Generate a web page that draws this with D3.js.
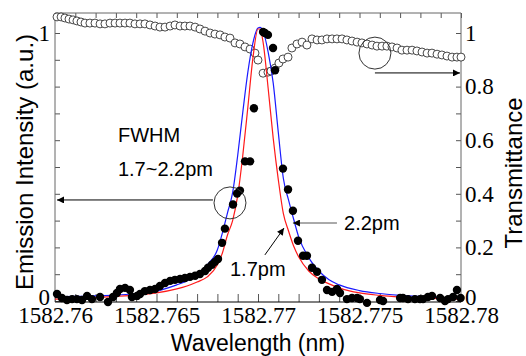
<!DOCTYPE html>
<html>
<head>
<meta charset="utf-8">
<style>
  body { margin: 0; background: #fff; }
  svg text { font-family: "Liberation Sans", Arial, sans-serif; }
</style>
<title>Emission and transmittance</title>
</head>
<body>
<script src="https://cdn.jsdelivr.net/npm/d3@7"></script>
<script>

// Emission intensity (filled dots)
var emWl = [1582.76010, 1582.76034, 1582.76059, 1582.76084, 1582.76108, 1582.76133, 1582.76158, 1582.76182,
            1582.76222, 1582.76261, 1582.76286, 1582.76305, 1582.76320, 1582.76345, 1582.76369, 1582.76379,
            1582.76404, 1582.76419, 1582.76443, 1582.76468, 1582.76493, 1582.76517, 1582.76542, 1582.76567,
            1582.76591, 1582.76616, 1582.76640, 1582.76665, 1582.76690, 1582.76714, 1582.76739, 1582.76754,
            1582.76773, 1582.76788, 1582.76803, 1582.76823, 1582.76837, 1582.76877, 1582.76897, 1582.76911,
            1582.76936, 1582.76961, 1582.76980, 1582.77025, 1582.77034, 1582.77049, 1582.77074, 1582.77084,
            1582.77123, 1582.77148, 1582.77172, 1582.77197, 1582.77222, 1582.77241, 1582.77266, 1582.77291,
            1582.77315, 1582.77340, 1582.77365, 1582.77389, 1582.77404, 1582.77438, 1582.77463, 1582.77488,
            1582.77502, 1582.77537, 1582.77601, 1582.77616, 1582.77700, 1582.77714, 1582.77739, 1582.77773,
            1582.77798, 1582.77813, 1582.77837, 1582.77857, 1582.77897, 1582.77921, 1582.77936, 1582.77961,
            1582.77980, 1582.77998];
var emVal = [0.026, 0.011, 0.004, 0.007, 0.007, 0.004, 0.019, 0.007,
             0.015, -0.004, 0.015, 0.030, 0.045, 0.049, 0.041, 0.015,
             0.019, 0.026, 0.037, 0.041, 0.045, 0.056, 0.067, 0.075,
             0.079, 0.082, 0.086, 0.090, 0.094, 0.101, 0.112, 0.124,
             0.135, 0.146, 0.157, 0.217, 0.270, 0.360, 0.401, 0.412,
             0.521, 0.521, 0.719, 1.004, 1.000, 0.993, 0.944, 0.861,
             0.494, 0.416, 0.337, 0.225, 0.169, 0.169, 0.124, 0.109,
             0.079, 0.041, 0.034, 0.045, 0.030, 0.007, 0.011, 0.011,
             0.007, -0.007, 0.004, 0.000, 0.011, 0.011, 0.007, 0.007,
             0.007, 0.007, 0.015, 0.019, 0.011, 0.000, 0.007, 0.015,
             0.041, 0.011];

// Transmittance (open circles)
var trWl = [1582.76010, 1582.76030, 1582.76049, 1582.76069, 1582.76089, 1582.76108, 1582.76128, 1582.76148,
            1582.76172, 1582.76197, 1582.76222, 1582.76246, 1582.76271, 1582.76296, 1582.76320, 1582.76345,
            1582.76369, 1582.76394, 1582.76419, 1582.76443, 1582.76468, 1582.76493, 1582.76517, 1582.76542,
            1582.76567, 1582.76591, 1582.76616, 1582.76640, 1582.76665, 1582.76690, 1582.76714, 1582.76739,
            1582.76764, 1582.76788, 1582.76813, 1582.76837, 1582.76862, 1582.76887, 1582.76911, 1582.76936,
            1582.76961, 1582.76985, 1582.77000, 1582.77025, 1582.77049, 1582.77064, 1582.77084, 1582.77103,
            1582.77123, 1582.77148, 1582.77167, 1582.77192, 1582.77217, 1582.77241, 1582.77266, 1582.77291,
            1582.77315, 1582.77340, 1582.77365, 1582.77389, 1582.77414, 1582.77438, 1582.77463, 1582.77488,
            1582.77512, 1582.77537, 1582.77562, 1582.77586, 1582.77611, 1582.77635, 1582.77660, 1582.77685,
            1582.77709, 1582.77734, 1582.77759, 1582.77783, 1582.77808, 1582.77833, 1582.77857, 1582.77882,
            1582.77906, 1582.77931, 1582.77956, 1582.77980, 1582.78000];
var trVal = [1.060, 1.060, 1.056, 1.052, 1.049, 1.045, 1.041, 1.037,
             1.037, 1.037, 1.034, 1.034, 1.037, 1.037, 1.037, 1.037,
             1.037, 1.034, 1.034, 1.034, 1.030, 1.026, 1.022, 1.022,
             1.026, 1.030, 1.026, 1.026, 1.026, 1.022, 1.015, 1.007,
             1.000, 0.996, 0.993, 0.985, 0.981, 0.963, 0.959, 0.948,
             0.940, 0.925, 0.899, 0.850, 0.854, 0.858, 0.869, 0.888,
             0.903, 0.910, 0.944, 0.959, 0.966, 0.955, 0.978, 0.974,
             0.974, 0.978, 0.978, 0.978, 0.978, 0.974, 0.970, 0.966,
             0.963, 0.959, 0.955, 0.951, 0.951, 0.951, 0.948, 0.944,
             0.936, 0.936, 0.936, 0.933, 0.929, 0.925, 0.925, 0.921,
             0.918, 0.914, 0.910, 0.910, 0.910];

// Lorentzian fits (blue: 2.2pm, red: 1.7pm)
var fitWl = [1582.760, 1582.761, 1582.762, 1582.763, 1582.764, 1582.765, 1582.766,
             1582.7665, 1582.767, 1582.7675, 1582.768, 1582.76825, 1582.7685, 1582.76875,
             1582.769, 1582.76925, 1582.7695, 1582.76975, 1582.770, 1582.7701, 1582.77025,
             1582.7705, 1582.77075, 1582.771, 1582.77125, 1582.7715, 1582.77175, 1582.772,
             1582.7725, 1582.773, 1582.7735, 1582.774, 1582.775, 1582.776, 1582.777,
             1582.778, 1582.779, 1582.780];
var fitBlue = [0.015, 0.017, 0.019, 0.022, 0.028, 0.037, 0.060,
               0.075, 0.097, 0.135, 0.191, 0.255, 0.330, 0.404,
               0.543, 0.704, 0.854, 0.963, 1.019, 1.021, 1.007,
               0.929, 0.813, 0.629, 0.457, 0.378, 0.307, 0.240,
               0.161, 0.112, 0.079, 0.060, 0.039, 0.028, 0.021,
               0.017, 0.013, 0.011];
var fitRed = [0.007, 0.009, 0.013, 0.017, 0.022, 0.030, 0.045,
              0.056, 0.071, 0.090, 0.135, 0.180, 0.247, 0.300,
              0.393, 0.543, 0.723, 0.907, 1.015, 1.015, 0.966,
              0.794, 0.607, 0.453, 0.326, 0.262, 0.206, 0.165,
              0.112, 0.082, 0.064, 0.049, 0.030, 0.021, 0.015,
              0.011, 0.009, 0.007];

// Axis ticks
var xTicks = [1582.760, 1582.761, 1582.762, 1582.763, 1582.764, 1582.765, 1582.766, 1582.767,
              1582.768, 1582.769, 1582.770, 1582.771, 1582.772, 1582.773, 1582.774, 1582.775,
              1582.776, 1582.777, 1582.778, 1582.779, 1582.780];
var xLabelVals = [1582.76, 1582.765, 1582.77, 1582.775, 1582.78];
var xLabels = ["1582.76", "1582.765", "1582.77", "1582.775", "1582.78"];
var yTicks = [0, 0.1, 0.2, 0.3, 0.4, 0.5, 0.6, 0.7, 0.8, 0.9, 1];
var yLeftVals = [0, 1], yLeftLabels = ["0", "1"];
var yRightVals = [0, 0.2, 0.4, 0.6, 0.8, 1], yRightLabels = ["0", "0.2", "0.4", "0.6", "0.8", "1"];

var margin = {top: 13, left: 55},
    width = 406, height = 289;

var x = d3.scaleLinear().domain([1582.76, 1582.78]).range([0, width]);
var y = d3.scaleLinear().domain([0, 1]).range([288, 20]);

var root = d3.select("body").append("svg")
    .attr("width", 526).attr("height", 356);

root.append("defs").append("marker")
    .attr("id", "arrow")
    .attr("viewBox", "0 0 10 10")
    .attr("refX", 10).attr("refY", 5)
    .attr("markerWidth", 10).attr("markerHeight", 7)
    .attr("markerUnits", "userSpaceOnUse")
    .attr("orient", "auto")
  .append("path").attr("d", "M0,0 L10,5 L0,10 z").attr("fill", "#000");

var svg = root.append("g").attr("transform", `translate(${margin.left},${margin.top})`);

function pick(vals, labels) {
    return d => {
        var i = vals.findIndex(v => Math.abs(v - d) < 1e-7);
        return i < 0 ? "" : labels[i];
    };
}

// axes (ticks point inward)
svg.append("g").attr("transform", `translate(0,${height})`)
    .call(d3.axisBottom(x).tickValues(xTicks).tickSize(-8).tickPadding(5).tickFormat(pick(xLabelVals, xLabels)))
    .call(g => g.select(".domain").remove());
svg.append("g")
    .call(d3.axisTop(x).tickValues(xTicks).tickSize(-5).tickFormat(""))
    .call(g => g.select(".domain").remove());
var yl = svg.append("g")
    .call(d3.axisLeft(y).tickValues(yTicks).tickSize(-5).tickPadding(5).tickFormat(pick(yLeftVals, yLeftLabels)))
    .call(g => g.select(".domain").remove());
var yr = svg.append("g").attr("transform", `translate(${width},0)`)
    .call(d3.axisRight(y).tickValues(yTicks).tickSize(-5).tickPadding(4).tickFormat(pick(yRightVals, yRightLabels)))
    .call(g => g.select(".domain").remove());
svg.selectAll(".tick line").attr("stroke", "#555");
svg.selectAll(".tick text")
    .style("font-family", '"Liberation Serif", "Times New Roman", Times, serif')
    .style("font-size", "23px").attr("fill", "#000");
// the zero labels sit a little higher, clear of the x labels
yl.selectAll(".tick text").filter(d => d === 0).attr("dy", "0.15em");
yr.selectAll(".tick text").filter(d => d === 0).attr("dy", "0.15em");

// frame
svg.append("path").attr("d", `M0,${height} V0 H${width} V${height}`)
    .attr("fill", "none").attr("stroke", "#666");
svg.append("line").attr("x1", 0).attr("x2", width).attr("y1", height).attr("y2", height)
    .attr("stroke", "#000");

// transmittance
svg.selectAll(".tr")
    .data(trWl.map((w, i) => [w, trVal[i]]))
  .enter().append("circle")
    .attr("class", "tr")
    .attr("cx", d => x(d[0])).attr("cy", d => y(d[1]))
    .attr("r", 4)
    .attr("fill", "#fff").attr("stroke", "#333").attr("stroke-width", 0.9);

// fits
var line = d3.line().x(d => x(d[0])).y(d => y(d[1])).curve(d3.curveMonotoneX);
svg.append("path").datum(fitWl.map((w, i) => [w, fitBlue[i]]))
    .attr("d", line).attr("fill", "none").attr("stroke", "#1a1aff").attr("stroke-width", 1.2);
svg.append("path").datum(fitWl.map((w, i) => [w, fitRed[i]]))
    .attr("d", line).attr("fill", "none").attr("stroke", "#ff1a1a").attr("stroke-width", 1.2);

// emission
svg.selectAll(".em")
    .data(emWl.map((w, i) => [w, emVal[i]]))
  .enter().append("circle")
    .attr("class", "em")
    .attr("cx", d => x(d[0])).attr("cy", d => y(d[1]))
    .attr("r", 4.2)
    .attr("fill", "#000");

// annotations
svg.append("circle").attr("cx", x(1582.76862)).attr("cy", y(0.366)).attr("r", 16)
    .attr("fill", "none").attr("stroke", "#333");
svg.append("circle").attr("cx", x(1582.77576)).attr("cy", y(0.925)).attr("r", 16)
    .attr("fill", "none").attr("stroke", "#333");

function arrow(x1, y1, x2, y2, col) {
    svg.append("line")
        .attr("x1", x(x1)).attr("y1", y(y1)).attr("x2", x(x2)).attr("y2", y(y2))
        .attr("stroke", col).attr("stroke-width", 1)
        .attr("marker-end", "url(#arrow)");
}
arrow(1582.76778, 0.377, 1582.7601, 0.377, "#000");
arrow(1582.77576, 0.851, 1582.77995, 0.851, "#000");
arrow(1582.77389, 0.291, 1582.77172, 0.291, "#555");
arrow(1582.77034, 0.172, 1582.77128, 0.272, "#000");

function note(t, wx, wy, dy) {
    svg.append("text").text(t)
        .attr("x", x(wx)).attr("y", y(wy)).attr("dy", dy)
        .style("font-size", "20px").attr("fill", "#000");
}
note("FWHM", 1582.76310, 0.593, 0);
note("1.7~2.2pm", 1582.76310, 0.466, 0);
note("2.2pm", 1582.77424, 0.291, "0.35em");
note("1.7pm", 1582.76862, 0.093, 0);

// axis titles
root.append("text").text("Emission Intensity (a.u.)")
    .attr("transform", "translate(33,162) rotate(-90)")
    .attr("text-anchor", "middle").style("font-size", "24px");
root.append("text").text("Transmittance")
    .attr("transform", "translate(522,173) rotate(-90)")
    .attr("text-anchor", "middle").style("font-size", "24px");
root.append("text").text("Wavelength (nm)")
    .attr("x", 258).attr("y", 351)
    .attr("text-anchor", "middle").style("font-size", "23px");

</script>
</body>
</html>
